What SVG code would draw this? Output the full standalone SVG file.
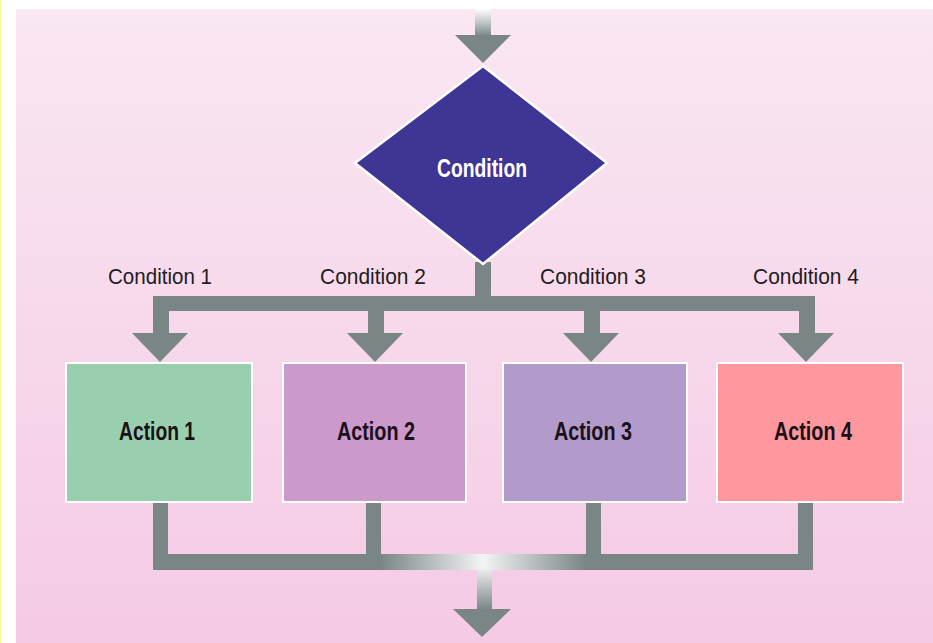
<svg xmlns="http://www.w3.org/2000/svg" width="933" height="643" viewBox="0 0 933 643">
  <defs>
    <linearGradient id="bg" x1="0" y1="0" x2="0" y2="1">
      <stop offset="0" stop-color="#f9e7f2"/>
      <stop offset="1" stop-color="#f5cae4"/>
    </linearGradient>
    <!-- shaft fading in from white at the top -->
    <linearGradient id="fadeDown" x1="0" y1="0" x2="0" y2="1">
      <stop offset="0" stop-color="#ffffff" stop-opacity="0.9"/>
      <stop offset="1" stop-color="#7a8686"/>
    </linearGradient>
    <!-- bottom merge bar: grey at both ends, bright at the centre -->
    <linearGradient id="mergeBar" gradientUnits="userSpaceOnUse" x1="153" y1="0" x2="813" y2="0">
      <stop offset="0" stop-color="#7a8686"/>
      <stop offset="0.345" stop-color="#7a8686"/>
      <stop offset="0.50" stop-color="#f4f4f4"/>
      <stop offset="0.655" stop-color="#7a8686"/>
      <stop offset="1" stop-color="#7a8686"/>
    </linearGradient>
    <linearGradient id="outShaft" gradientUnits="userSpaceOnUse" x1="0" y1="566" x2="0" y2="610">
      <stop offset="0" stop-color="#f4f4f4"/>
      <stop offset="1" stop-color="#7a8686"/>
    </linearGradient>
  </defs>
  <style>
    .pipe { fill: #7a8686; }
    .head { fill: #7a8686; }
    .box { stroke: #ffffff; stroke-width: 2; }
    .label { font-family: "Liberation Sans Narrow", "Liberation Sans", Arial, sans-serif; font-size: 22px; fill: #231c22; text-anchor: middle; }
    .action { font-family: "Liberation Sans Narrow", "Liberation Sans", Arial, sans-serif; font-weight: bold; font-size: 25px; fill: #1a1018; text-anchor: middle; }
    .cond { font-family: "Liberation Sans Narrow", "Liberation Sans", Arial, sans-serif; font-weight: bold; font-size: 26px; fill: #ffffff; text-anchor: middle; }
  </style>

  <!-- page -->
  <rect x="0" y="0" width="933" height="643" fill="#ffffff"/>
  <rect x="0" y="0" width="1.5" height="643" fill="#fff59a"/>
  <rect x="16" y="9" width="917" height="634" fill="url(#bg)"/>

  <g id="connectors">
    <!-- entry arrow -->
    <rect x="475" y="9" width="16" height="27" fill="url(#fadeDown)"/>
    <polygon class="head" points="455,35 511,35 483,63"/>

    <!-- stem from the decision and branch bar -->
    <rect class="pipe" x="475" y="262" width="16" height="49"/>
    <rect class="pipe" x="153" y="296" width="662" height="15"/>

    <!-- branch drops -->
    <rect class="pipe" x="153" y="296" width="16" height="38"/>
    <polygon class="head" points="132,333 188,333 160,362"/>
    <rect class="pipe" x="368" y="296" width="16" height="38"/>
    <polygon class="head" points="347,333 403,333 375,362"/>
    <rect class="pipe" x="584" y="296" width="16" height="38"/>
    <polygon class="head" points="563,333 619,333 591,362"/>
    <rect class="pipe" x="799" y="296" width="16" height="38"/>
    <polygon class="head" points="778,333 834,333 806,362"/>

    <!-- merge risers -->
    <rect class="pipe" x="153" y="503" width="15" height="60"/>
    <rect class="pipe" x="366" y="503" width="15" height="60"/>
    <rect class="pipe" x="586" y="503" width="15" height="60"/>
    <rect class="pipe" x="798" y="503" width="15" height="60"/>
    <!-- merge bar -->
    <rect x="153" y="554" width="660" height="16" rx="1" fill="url(#mergeBar)"/>

    <!-- exit arrow -->
    <rect x="477" y="569" width="15" height="41" fill="url(#outShaft)"/>
    <polygon class="head" points="453,609 511,609 482,637"/>
  </g>

  <g id="decision">
    <polygon points="483,66 607,163 483,264 355,163" fill="#3f3595" stroke="#ffffff" stroke-width="2.5" stroke-linejoin="miter"/>
    <text class="cond" x="482" y="177" textLength="90" lengthAdjust="spacingAndGlyphs">Condition</text>
  </g>

  <g id="label-1"><text class="label" x="160" y="284" textLength="104" lengthAdjust="spacingAndGlyphs">Condition 1</text></g>
  <g id="label-2"><text class="label" x="373" y="284" textLength="106" lengthAdjust="spacingAndGlyphs">Condition 2</text></g>
  <g id="label-3"><text class="label" x="593" y="284" textLength="106" lengthAdjust="spacingAndGlyphs">Condition 3</text></g>
  <g id="label-4"><text class="label" x="806" y="284" textLength="106" lengthAdjust="spacingAndGlyphs">Condition 4</text></g>

  <g id="action-1">
    <rect class="box" x="66" y="363" width="186" height="139" fill="#99cfae"/>
    <text class="action" x="157" y="440" textLength="76" lengthAdjust="spacingAndGlyphs">Action 1</text>
  </g>
  <g id="action-2">
    <rect class="box" x="283" y="363" width="183" height="139" fill="#cc99cb"/>
    <text class="action" x="376" y="440" textLength="78" lengthAdjust="spacingAndGlyphs">Action 2</text>
  </g>
  <g id="action-3">
    <rect class="box" x="503" y="363" width="184" height="139" fill="#b29acb"/>
    <text class="action" x="593" y="440" textLength="78" lengthAdjust="spacingAndGlyphs">Action 3</text>
  </g>
  <g id="action-4">
    <rect class="box" x="717" y="363" width="186" height="139" fill="#fe979e"/>
    <text class="action" x="813" y="440" textLength="78" lengthAdjust="spacingAndGlyphs">Action 4</text>
  </g>
</svg>
